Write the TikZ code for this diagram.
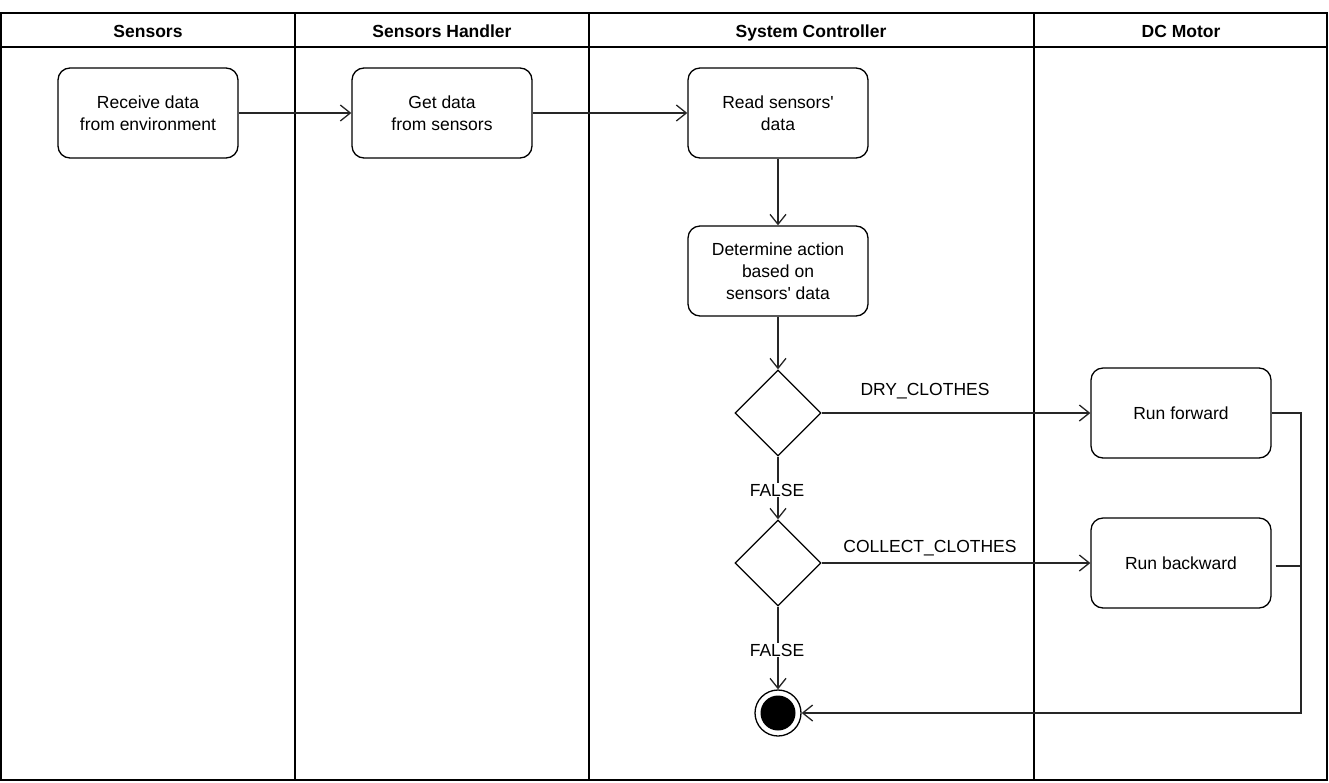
\documentclass[tikz,border=0pt]{standalone}
\usepackage{fontspec}
\setmainfont[Ligatures=TeXOff]{Liberation Sans}
\usetikzlibrary{shapes.geometric,arrows.meta,calc}
\begin{document}
\begin{tikzpicture}[x=1pt,y=-1pt,
  every node/.style={font=\fontsize{17.5}{22}\selectfont},
  lane/.style={draw=black,line width=1.4pt},
  act/.style={draw=black,line width=1.3pt,rounded corners=12pt,minimum width=180pt,minimum height=90pt,align=center,inner sep=0pt},
  dec/.style={draw=black,line width=1.3pt,diamond,minimum width=86pt,minimum height=86pt,inner sep=0pt},
  hdr/.style={font=\fontsize{17.5}{22}\selectfont\bfseries,anchor=base},
  flow/.style={draw=black!85,line width=1.3pt,-{Straight Barb[length=10pt,width=16pt,line width=1.3pt]}},
  plain/.style={draw=black!85,line width=1.3pt},
  lbl/.style={fill=white,inner sep=1pt}
]
\useasboundingbox (0,0) rectangle (1329,782);
% swimlanes
\draw[lane] (1,13) rectangle (1327,780);
\draw[lane] (1,47) -- (1327,47);
\draw[lane] (295,13) -- (295,780);
\draw[lane] (589,13) -- (589,780);
\draw[lane] (1034,13) -- (1034,780);
\node[hdr] (h1) at (148,37) {Sensors};
\node[hdr] (h2) at (442,37) {Sensors Handler};
\node[hdr] (h3) at (811,37) {System Controller};
\node[hdr] (h4) at (1181,37) {DC Motor};
% activities
\node[act] (recv) at (148,113) {Receive data\\from environment};
\node[act] (get) at (442,113) {Get data\\from sensors};
\node[act] (read) at (778,113) {Read sensors'\\data};
\node[act] (det) at (778,271) {Determine action\\based on\\sensors' data};
\node[dec] (d1) at (778,413) {};
\node[dec] (d2) at (778,563) {};
\node[act] (fwd) at (1181,413) {Run forward};
\node[act] (bwd) at (1181,563) {Run backward};
\node[circle,draw=black,line width=1.3pt,minimum size=46pt,inner sep=0pt] (end) at (778,713) {};
\node[circle,fill=black,minimum size=35pt,inner sep=0pt] (endin) at (778,713) {};
\coordinate (rc) at (1301,713);
% connectors
\draw[flow] (recv) -- (get);
\draw[flow] (get) -- (read);
\draw[flow] (read) -- (det);
\draw[flow] (det) -- (d1);
\draw[flow] (d1) -- (fwd);
\node (lb1) at (925,391) {DRY\_CLOTHES};
\draw[flow] (d1) -- (d2);
\node[lbl] (lf1) at (777,490) {FALSE};
\draw[flow] (d2) -- (bwd);
\node (lb2) at (930,548) {COLLECT\_CLOTHES};
\draw[flow] (d2) -- (end);
\node[lbl] (lf2) at (777,650) {FALSE};
\draw[flow] (fwd.east) -| (rc) -- (end.east);
\draw[plain] ($(bwd.east)+(4,3)$) -- ($(bwd.east)+(30,3)$);
\end{tikzpicture}
\end{document}
